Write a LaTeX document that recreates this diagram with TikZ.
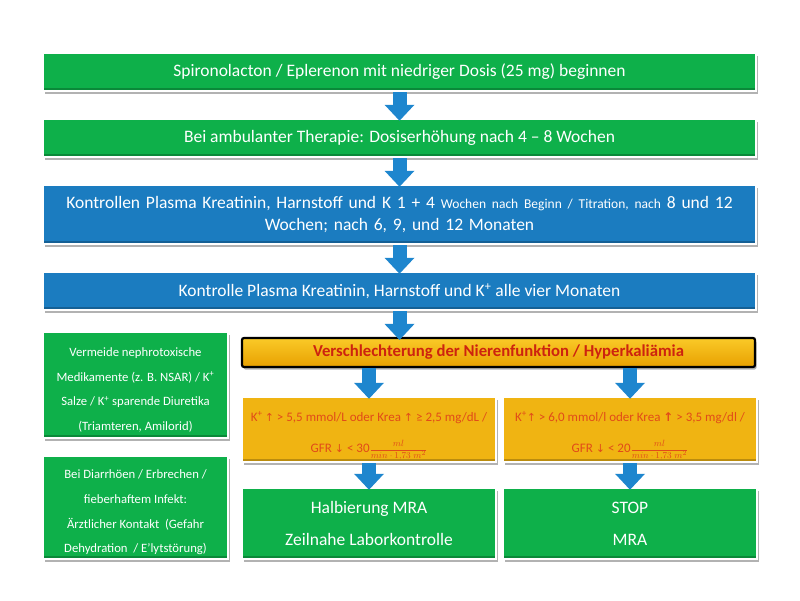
\documentclass[tikz,border=0pt]{standalone}
\usepackage{fontspec}
\setmainfont{Carlito}
\newfontfamily\symfont{DejaVu Sans}
\usetikzlibrary{shadows,arrows.meta}
\definecolor{mgreen}{RGB}{14,176,74}
\definecolor{mblue}{RGB}{27,124,192}
\definecolor{myellow}{RGB}{240,180,18}
\definecolor{arrowblue}{RGB}{30,134,206}
\definecolor{hdrred}{RGB}{205,35,15}
\definecolor{ytext}{RGB}{225,75,25}
\newcommand{\upar}{{\symfont\fontsize{11}{11}\selectfont ↑}}
\newcommand{\dnar}{{\symfont\fontsize{11}{11}\selectfont ↓}}
\newcommand{\gfrunit}{{\fontsize{9.5}{9.5}\selectfont$\displaystyle\frac{ml}{min\cdot 1{,}73\;m^2}$}}
\tikzset{
  box/.style={rectangle, draw=white, line width=2.5pt, inner sep=2pt, align=center,
    text=white, font=\fontsize{17.5}{22}\selectfont,
    drop shadow={shadow xshift=1.5pt, shadow yshift=-2.5pt, opacity=0.3, fill=black},
    path picture={\fill[black,opacity=0.22] ([yshift=3pt]path picture bounding box.south west) rectangle (path picture bounding box.south east);}},
  gbox/.style={box, fill=mgreen},
  bbox/.style={box, fill=mblue},
  ybox/.style={box, fill=myellow, text=ytext, font=\fontsize{13}{31}\selectfont},
  sidebox/.style={gbox, font=\fontsize{12.7}{24.7}\selectfont},
  hdrbox/.style={rectangle, rounded corners=2pt, draw=black, line width=2.2pt,
    top color={rgb,255:red,250;green,202;blue,40}, bottom color={rgb,255:red,232;green,160;blue,0},
    text=hdrred, font=\fontsize{16.7}{20}\selectfont\bfseries,
    drop shadow={shadow xshift=1.5pt, shadow yshift=-2.5pt, opacity=0.3, fill=black}},
  blk/.style={draw=arrowblue, line width=14pt, shorten >=-3pt,
    -{Triangle[width=30pt,length=16pt,line width=0pt]}}
}
\begin{document}
\begin{tikzpicture}[x=1pt,y=-1pt]
\useasboundingbox (0,0) rectangle (800,600);
\node[gbox, minimum width=713pt, minimum height=38pt] (b1) at (399.5,72)
  {Spironolacton / Eplerenon mit niedriger Dosis (25 mg) beginnen};
\node[gbox, minimum width=713pt, minimum height=38pt] (b2) at (399.5,138)
  {Bei ambulanter Therapie: Dosiserhöhung nach 4 – 8 Wochen};
\node[bbox, minimum width=713pt, minimum height=59pt, text width=700pt] (b3) at (399.5,214.5)
  {Kontrollen Plasma Kreatinin, Harnstoff und K 1 + 4 {\fontsize{13.5}{22}\selectfont Wochen nach Beginn / Titration, nach} 8 und 12\\Wochen; nach 6, 9, und 12 Monaten};
\node[bbox, minimum width=713pt, minimum height=38pt] (b4) at (399.5,291)
  {Kontrolle Plasma Kreatinin, Harnstoff und K\textsuperscript{+} alle vier Monaten};
\node[sidebox, minimum width=185pt, minimum height=106pt] (sa) at (135.5,385)
  {\rule{0pt}{19pt}Vermeide nephrotoxische\\Medikamente (z. B. NSAR) / K\textsuperscript{+}\\Salze / K\textsuperscript{+} sparende Diuretika\\(Triamteren, Amilorid)};
\node[sidebox, minimum width=185pt, minimum height=103pt] (sb) at (135.5,507.5)
  {\rule{0pt}{19pt}Bei Diarrhöen / Erbrechen /\\fieberhaftem Infekt:\\Ärztlicher Kontakt~ (Gefahr\\Dehydration~ / E’lytstörung)};
\node[hdrbox, minimum width=513pt, minimum height=29pt] (hdr) at (498.5,352.5)
  {Verschlechterung der Nierenfunktion / Hyperkaliämia};
\node[ybox, minimum width=254pt, minimum height=65pt] (yl) at (369,429.5)
  {\rule{0pt}{22pt}K\textsuperscript{+}\,\upar{} > 5,5 mmol/L oder Krea \upar{} ≥ 2,5 mg/dL /\\GFR \dnar{} < 30\gfrunit};
\node[ybox, minimum width=254pt, minimum height=65pt] (yr) at (630,429.5)
  {\rule{0pt}{22pt}K\textsuperscript{+}\upar{} > 6,0 mmol/l oder Krea {\symfont\bfseries\fontsize{12}{12}\selectfont ↑} > 3,5 mg/dl /\\GFR \dnar{} < 20\gfrunit};
\node[gbox, minimum width=254pt, minimum height=71pt, font=\fontsize{17.5}{32}\selectfont] (gl) at (369,523.5)
  {Halbierung MRA\\Zeilnahe Laborkontrolle};
\node[gbox, minimum width=254pt, minimum height=71pt, font=\fontsize{17.5}{32}\selectfont] (gr) at (630,523.5)
  {STOP\\MRA};
\draw[blk] (b1.south) -- (b2.north);
\draw[blk] (b2.south) -- (b3.north);
\draw[blk] (b3.south) -- (b4.north);
\draw[blk] (b4.south) -- (b4.south |- hdr.north);
\draw[blk] (yl.north |- hdr.south) -- (yl.north);
\draw[blk] (yr.north |- hdr.south) -- (yr.north);
\draw[blk] (yl.south) -- (gl.north);
\draw[blk] (yr.south) -- (gr.north);
\end{tikzpicture}
\end{document}
